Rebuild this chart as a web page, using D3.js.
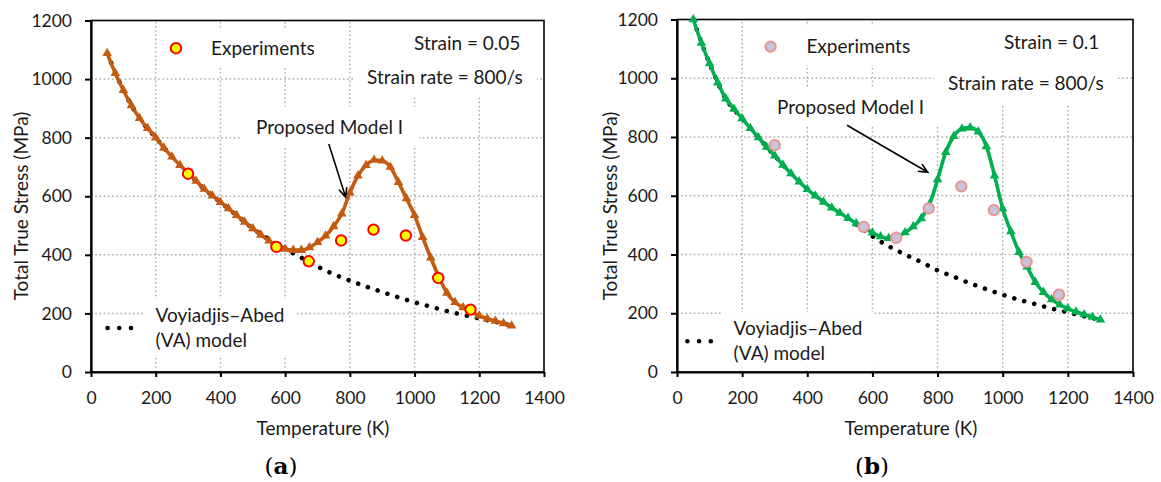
<!DOCTYPE html>
<html>
<head>
<meta charset="utf-8">
<script src="https://cdn.jsdelivr.net/npm/d3@7/dist/d3.min.js"></script>
<style>
  body { margin: 0; background: #fff; }
  #wrap { position: relative; width: 1161px; height: 482px; }
  #wrap svg { position: absolute; left: 0; top: 0; }
  text { font-family: Lato, 'Open Sans', sans-serif; fill: #1a1a1a; }
</style>
</head>
<body>
<div id="wrap">
  <svg id="under" width="1161" height="482"></svg>
  <svg id="chart" width="1161" height="482"></svg>
</div>
<script>
// temperature grid of the model curves (K)
const temps = [50, 75, 100, 125, 150, 175, 200, 225, 250, 275, 300, 325, 350, 375, 400, 425, 450, 475,
  500, 525, 550, 575, 600, 625, 650, 675, 700, 725, 750, 775, 800, 825, 850, 875, 900, 925, 950, 975,
  1000, 1025, 1050, 1075, 1100, 1125, 1150, 1175, 1200, 1225, 1250, 1275, 1300]
// Proposed Model I, strain 0.05 and 0.1 (MPa)
const modelA = [1088, 1020, 962, 910, 866, 832, 800, 765, 735, 706, 680, 652, 625, 602, 580, 558, 535, 512,
  490, 468, 448, 430, 420, 416, 416, 425, 443, 465, 497, 540, 612, 670, 706, 724, 721, 700, 648, 592,
  535, 460, 390, 325, 270, 238, 220, 205, 192, 182, 174, 166, 158]
const modelB = [1200, 1120, 1050, 985, 930, 895, 863, 830, 798, 766, 736, 705, 676, 648, 622, 600, 579, 559,
  541, 524, 506, 490, 474, 461, 455, 460, 475, 495, 523, 570, 655, 748, 803, 828, 832, 818, 768, 668,
  556, 478, 408, 358, 306, 272, 247, 229, 216, 205, 196, 187, 178]

// Voyiadjis-Abed model
const vaTemps = [50, 100, 150, 200, 250, 300, 350, 400, 450, 500, 550, 600, 650, 700, 750, 800, 850, 900,
  950, 1000, 1050, 1100, 1150, 1200, 1250, 1300]
const vaA = [1088, 962, 866, 800, 735, 680, 625, 580, 535, 490, 452, 420, 390, 360, 334, 312, 292, 273,
  255, 238, 223, 208, 195, 183, 171, 159]
const vaB = [1200, 1050, 930, 863, 798, 736, 676, 622, 579, 541, 502, 462, 428, 400, 374, 346, 324, 302,
  282, 263, 246, 231, 216, 203, 190, 178]

// experiments
const expTemps = [300, 573, 673, 773, 873, 973, 1073, 1173]
const expA = [677, 427, 378, 449, 486, 466, 321, 213]
const expB = [772, 494, 457, 557, 632, 551, 375, 263]

const xTicks = [0, 200, 400, 600, 800, 1000, 1200, 1400]
const yTicks = [0, 200, 400, 600, 800, 1000, 1200]

// grid lives in its own svg underneath the chart
const under = d3.select('#under')
under.append('rect').attr('width', 1161).attr('height', 482).attr('fill', '#fff')
const svg = d3.select('#chart')

function drawPanel(p) {
  const x = d3.scaleLinear([0, 1400], [p.left, p.right])
  const y = d3.scaleLinear([0, 1200], [p.bottom, p.top])
  const t = p.text

  // dotted grid
  const grid = under.append('g')
      .attr('stroke', '#adadad')
      .attr('stroke-width', 1.5)
      .attr('stroke-dasharray', '1.6 2.6')
  grid.selectAll('line.gx').data(xTicks.slice(1, -1)).join('line')
      .attr('class', 'gx')
      .attr('x1', d => x(d)).attr('x2', d => x(d))
      .attr('y1', p.bottom).attr('y2', p.top)
  grid.selectAll('line.gy').data(yTicks.slice(1, -1)).join('line')
      .attr('class', 'gy')
      .attr('x1', p.left).attr('x2', p.right)
      .attr('y1', d => y(d)).attr('y2', d => y(d))

  const g = svg.append('g')

  // text blocks with white boxes over the grid
  const block = (build, pad) => {
    const b = g.append('g')
    build(b)
    const bb = b.node().getBBox()
    b.insert('rect', ':first-child')
        .attr('x', bb.x - pad[0]).attr('y', bb.y - pad[1])
        .attr('width', bb.width + 2 * pad[0]).attr('height', bb.height + 2 * pad[1])
        .attr('fill', '#fff')
  }
  block(b => {
    b.append('circle')
        .attr('cx', p.left + t.exp[0]).attr('cy', p.top + t.exp[1]).attr('r', 5.2)
        .attr('fill', p.expFill).attr('stroke', p.expStroke).attr('stroke-width', 2)
    b.append('text')
        .attr('x', p.left + t.exp[2]).attr('y', p.top + t.exp[1]).attr('dy', '0.35em')
        .attr('font-size', 19).text('Experiments')
  }, [10, 8])
  block(b => {
    b.append('text')
        .attr('x', p.left + t.strain[0]).attr('y', p.top + t.strain[1]).attr('dy', '0.35em')
        .attr('font-size', 19).text(p.strainLabel)
    b.append('text')
        .attr('x', p.left + t.rate[0]).attr('y', p.top + t.rate[1]).attr('dy', '0.35em')
        .attr('font-size', 19).text('Strain rate = 800/s')
  }, [14, 10])
  block(b => {
    b.append('text')
        .attr('x', p.left + t.model[0]).attr('y', p.top + t.model[1]).attr('dy', '0.35em')
        .attr('font-size', 19).text('Proposed Model I')
  }, [16, 8])
  block(b => {
    b.append('text')
        .attr('x', p.left + t.va[0]).attr('y', p.top + t.va[1]).attr('dy', '0.35em')
        .attr('font-size', 19).text('Voyiadjis\u2013Abed')
    b.append('text')
        .attr('x', p.left + t.va[0]).attr('y', p.top + t.va[2]).attr('dy', '0.35em')
        .attr('font-size', 19).text('(VA) model')
  }, [12, 4])
  // VA legend key
  g.append('line')
      .attr('x1', p.left + t.vaKey[0]).attr('x2', p.left + t.vaKey[1])
      .attr('y1', p.top + t.vaKey[2]).attr('y2', p.top + t.vaKey[2])
      .attr('stroke', '#000').attr('stroke-width', 4.6)
      .attr('stroke-linecap', 'round')
      .attr('stroke-dasharray', `0.01 ${(t.vaKey[1] - t.vaKey[0]) / 3 - 0.01}`)

  // frame
  g.append('rect')
      .attr('x', p.left).attr('y', p.top)
      .attr('width', p.right - p.left).attr('height', p.bottom - p.top)
      .attr('fill', 'none').attr('stroke', '#000').attr('stroke-width', 1.6)

  // axes
  g.append('g')
      .attr('transform', `translate(0,${p.bottom})`)
      .call(d3.axisBottom(x).tickValues(xTicks).tickFormat(d3.format('d'))
        .tickSize(5).tickPadding(15).tickSizeOuter(0))
      .attr('font-size', 17.5)
      .call(a => a.select('.domain').attr('stroke-width', 2.2))
      .call(a => a.selectAll('.tick line').attr('stroke-width', 2))
  g.append('g')
      .attr('transform', `translate(${p.left},0)`)
      .call(d3.axisLeft(y).tickValues(yTicks).tickFormat(d3.format('d'))
        .tickSize(6).tickPadding(13).tickSizeOuter(0))
      .attr('font-size', 17.5)
      .call(a => a.select('.domain').attr('stroke-width', 2.2))
      .call(a => a.selectAll('.tick line').attr('stroke-width', 2))

  g.append('text')
      .attr('x', p.left + t.xTitle).attr('y', 428).attr('dy', '0.35em')
      .attr('text-anchor', 'middle').attr('font-size', 19)
      .text('Temperature (K)')
  g.append('text')
      .attr('transform', `translate(${p.left + t.yTitle},206) rotate(-90)`)
      .attr('dy', '0.35em')
      .attr('text-anchor', 'middle').attr('font-size', 19)
      .text('Total True Stress (MPa)')
  const lab = g.append('text')
      .attr('x', p.left + t.label).attr('y', 474)
      .attr('text-anchor', 'middle').attr('font-size', 23)
      .style('font-family', "'DejaVu Serif', 'Liberation Serif', serif")
      .style('fill', '#000')
  lab.append('tspan').text('(')
  lab.append('tspan').attr('font-weight', 'bold').text(p.letter)
  lab.append('tspan').text(')')

  // VA model: dotted line
  g.append('path')
      .attr('fill', 'none')
      .attr('stroke', '#000')
      .attr('stroke-width', 4.6)
      .attr('stroke-linecap', 'round')
      .attr('stroke-dasharray', '0.01 10.3')
      .attr('d', d3.line().curve(d3.curveMonotoneX)
        .x((d, i) => x(vaTemps[i])).y(d => y(d))(p.va))

  // Proposed Model I: line with triangles
  g.append('path')
      .attr('fill', 'none')
      .attr('stroke', p.color)
      .attr('stroke-width', 3.6)
      .attr('stroke-linejoin', 'round')
      .attr('d', d3.line().curve(d3.curveMonotoneX)
        .x((d, i) => x(temps[i])).y(d => y(d))(p.model))
  g.append('g').selectAll('path').data(p.model).join('path')
      .attr('transform', (d, i) => `translate(${x(temps[i])},${y(d)})`)
      .attr('d', d3.symbol(d3.symbolTriangle, 40))
      .attr('fill', p.color)

  // experiments
  g.append('g').selectAll('circle').data(p.exp).join('circle')
      .attr('cx', (d, i) => x(expTemps[i])).attr('cy', d => y(d))
      .attr('r', 5.2)
      .attr('fill', p.expFill).attr('stroke', p.expStroke).attr('stroke-width', 2)

  // arrow to the model curve, head drawn as an open V
  const [ax1, ay1, ax2, ay2] = [x(p.arrow[0]), y(p.arrow[1]), x(p.arrow[2]), y(p.arrow[3])]
  const ang = Math.atan2(ay2 - ay1, ax2 - ax1)
  const head = s => [ax2 - 10 * Math.cos(ang + s * 0.42), ay2 - 10 * Math.sin(ang + s * 0.42)]
  g.append('path')
      .attr('d', `M${ax1},${ay1}L${ax2},${ay2}M${head(1)}L${ax2},${ay2}L${head(-1)}`)
      .attr('fill', 'none')
      .attr('stroke', '#000').attr('stroke-width', 1.6)
}

drawPanel({
  left: 91, right: 544, top: 20.5, bottom: 372,
  model: modelA, va: vaA, exp: expA,
  color: '#C55A11', expFill: '#FFFF00', expStroke: '#FF0000',
  strainLabel: 'Strain = 0.05', letter: 'a',
  arrow: [735, 778, 787, 597],
  text: {
    exp: [85, 27.7, 120], strain: [323, 23.3], rate: [276, 56.5],
    model: [165, 106.5], va: [64.6, 295, 320], vaKey: [16.6, 51.7, 307.5],
    xTitle: 232, yTitle: -70, label: 190
  }
})

drawPanel({
  left: 677, right: 1133, top: 19.5, bottom: 372,
  model: modelB, va: vaB, exp: expB,
  color: '#00B050', expFill: '#C9C3DD', expStroke: '#E8968F',
  strainLabel: 'Strain = 0.1', letter: 'b',
  arrow: [522, 840, 770, 680],
  text: {
    exp: [93.6, 27.1, 129.4], strain: [327, 22.7], rate: [271, 63.8],
    model: [100, 88], va: [56.6, 309, 333.5], vaKey: [10.4, 45.5, 321.7],
    xTitle: 234, yTitle: -67, label: 195
  }
})
</script>
</body>
</html>
